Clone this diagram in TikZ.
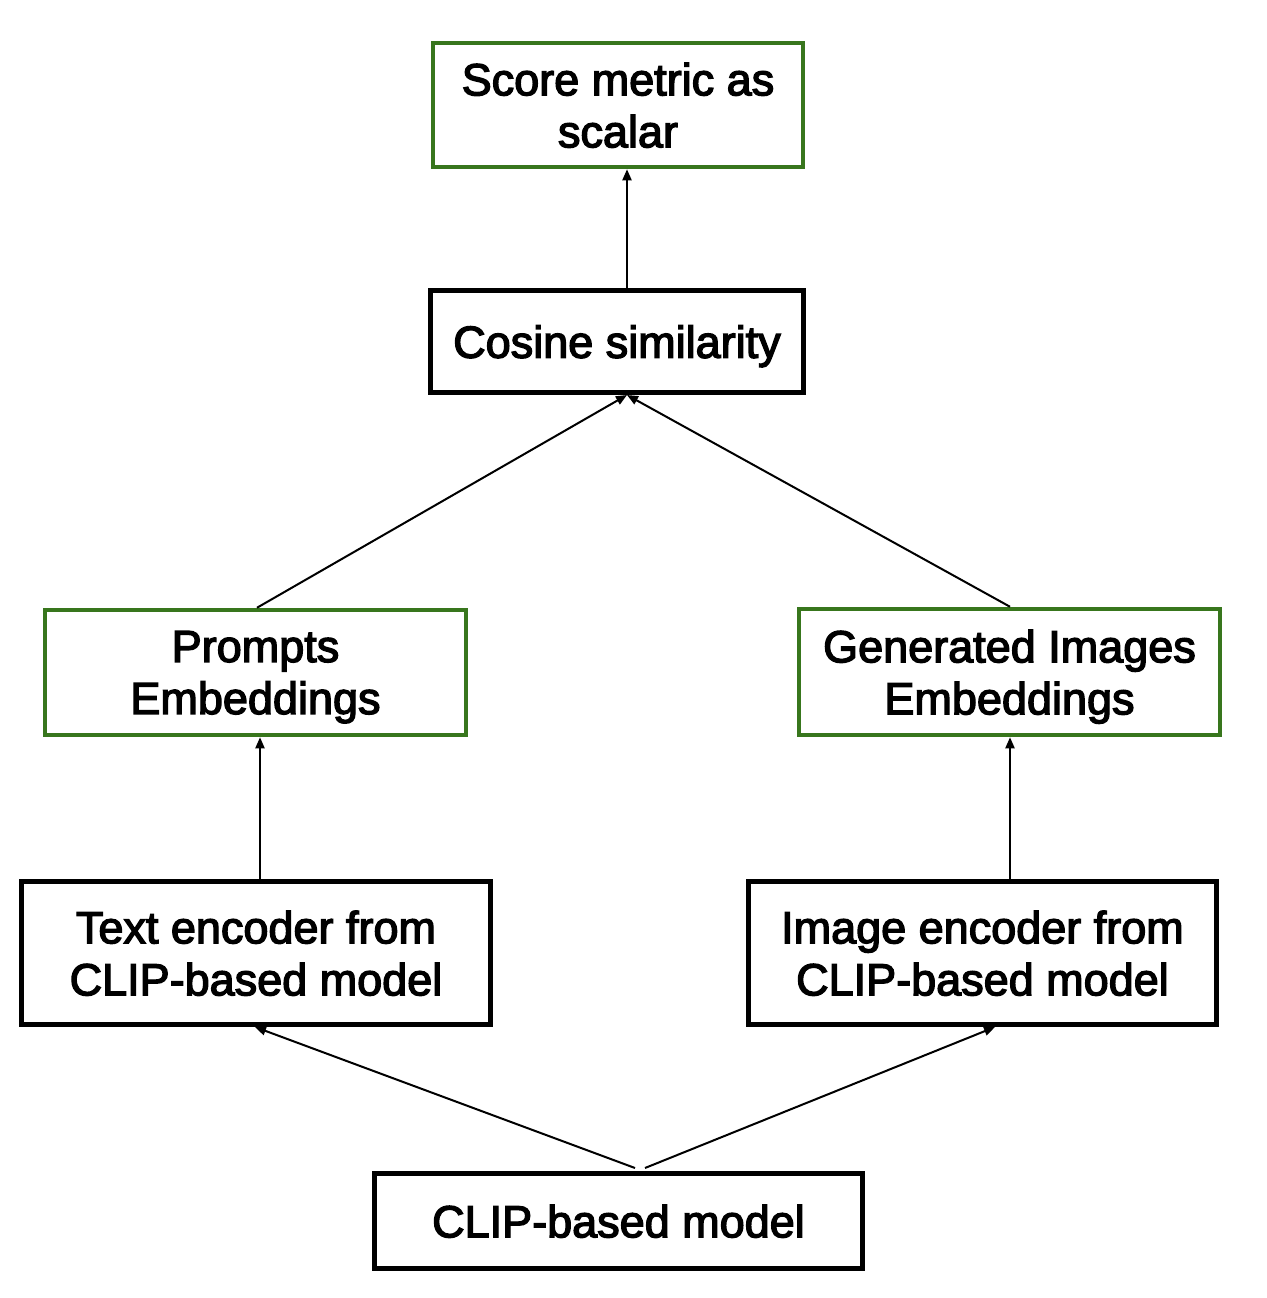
\documentclass[tikz,border=0pt]{standalone}
\usepackage{fontspec}
\setmainfont{Liberation Sans}
\newfontfamily\medfont[FakeBold=3]{Liberation Sans}
\usetikzlibrary{arrows.meta}
\definecolor{boxgreen}{RGB}{56,118,29}
\begin{document}
\begin{tikzpicture}[x=1pt,y=-1pt,
  font=\medfont\fontsize{45}{52}\selectfont,
  box/.style={draw=black, line width=5pt, inner sep=0pt, align=center, text depth=0pt},
  gbox/.style={box, draw=boxgreen, line width=4.5pt},
  conn/.style={line width=2pt, -{Triangle[length=11pt,width=9pt]}}]
\useasboundingbox[fill=white] (0,0) rectangle (1266,1298);
\node[gbox, minimum width=370pt, minimum height=124pt] (score) at (618,105) {Score metric as\\scalar};
\node[box, minimum width=373pt, minimum height=102pt] (cos) at (617,341.5) {Cosine similarity};
\node[gbox, minimum width=421pt, minimum height=125pt] (prompt) at (255.5,672.5) {Prompts\\Embeddings};
\node[gbox, minimum width=421pt, minimum height=126pt] (gen) at (1009.5,672) {Generated Images\\Embeddings};
\node[box, minimum width=469pt, minimum height=143pt] (tenc) at (256,953) {Text encoder from\\CLIP-based model};
\node[box, minimum width=468pt, minimum height=143pt] (ienc) at (982.5,953) {Image encoder from\\CLIP-based model};
\node[box, minimum width=488pt, minimum height=95pt] (clip) at (618.5,1221) {CLIP-based model};
\draw[conn] ([xshift=10pt]cos.north) -- ([xshift=9pt]score.south);
\draw[conn] ([xshift=1.5pt]prompt.north) -- ([xshift=10pt]cos.south);
\draw[conn] ([xshift=0.5pt]gen.north) -- ([xshift=10pt]cos.south);
\draw[conn] ([xshift=4pt]tenc.north) -- ([xshift=4.5pt]prompt.south);
\draw[conn] ([xshift=27.5pt]ienc.north) -- ([xshift=0.5pt]gen.south);
\draw[conn] ([xshift=16.5pt,yshift=3pt]clip.north) -- ([xshift=-1pt]tenc.south);
\draw[conn] ([xshift=26.5pt,yshift=3pt]clip.north) -- ([xshift=12.5pt]ienc.south);
\end{tikzpicture}
\end{document}
